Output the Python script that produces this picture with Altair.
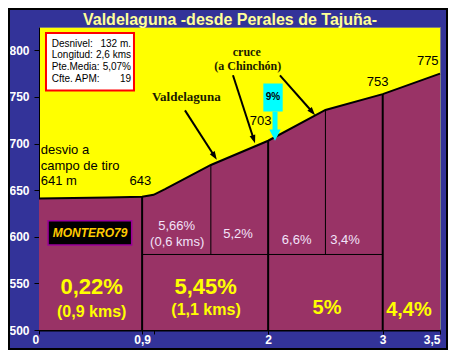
import math
import altair as alt
import pandas as pd

# ---------------- data ----------------
dist_km = [0, 0.6, 0.9, 1.0, 1.1, 1.5, 2.0, 2.5, 3.0, 3.5]
elev_m = [641, 642, 643, 645, 651, 677, 703, 736, 753, 775]

x_ticks = [0, 0.9, 1, 2, 3, 3.5]
y_ticks = [500, 550, 600, 650, 700, 750, 800]

major_km = [0.9, 2, 3]
major_top = [643, 703, 753]
minor_km = [1.5, 2.5]
minor_top = [677, 736]
minor_base = 581

info_keys = ["Desnivel:", "Longitud:", "Pte.Media:", "Cfte. APM:"]
info_vals = ["132 m.", "2,6 kms", "5,07%", "19"]

point_labels = ["643", "703", "753", "775"]
big_labels = ["0,22%", "5,45%"]
big_sub_labels = ["(0,9 kms)", "(1,1 kms)"]
mid_labels = ["5%", "4,4%"]
small_labels = ["5,66%", "(0,6 kms)", "5,2%", "6,6%", "3,4%"]

TITLE = "Valdelaguna -desde Perales de Tajuña-"

# ---------------- layout ----------------
W, H = 401, 303
PAD = {"left": 31, "top": 19, "right": 8, "bottom": 20}
X_DOM = [0, 3.5]
Y_DOM = [500, 825]
SANS = "Liberation Sans"
SERIF = "Liberation Serif"

px_km = W / (X_DOM[1] - X_DOM[0])
px_m = H / (Y_DOM[1] - Y_DOM[0])

x_axis = alt.Axis(
    values=x_ticks,
    labelExpr="datum.value == 1 ? '' : replace(toString(datum.value), '.', ',')",
    labelColor="white", labelFont=SANS, labelFontSize=12, labelFontWeight="bold",
    labelOffset={"condition": {"test": "datum.value == 0", "value": -7}, "value": 0},
    labelPadding=0, tickSize=4, tickColor="black", tickWidth=1,
    domainColor="black", domainWidth=2, grid=False, title=None,
)
y_axis = alt.Axis(
    values=y_ticks, labelColor="white", labelFont=SANS, labelFontSize=12,
    labelFontWeight="bold", labelPadding=5, tickSize=5, tickColor="black",
    domainColor="black", domainWidth=1, grid=False, title=None,
)
xs = alt.Scale(domain=X_DOM, nice=False, zero=False)
ys = alt.Scale(domain=Y_DOM, nice=False, zero=False)


def X(f="km"):
    return alt.X(f"{f}:Q", scale=xs, axis=x_axis)


def Y(f="elev"):
    return alt.Y(f"{f}:Q", scale=ys, axis=y_axis)


prof = pd.DataFrame({"km": dist_km, "elev": elev_m, "base": [500] * len(dist_km)})

area = alt.Chart(prof).mark_area(color="#993366", opacity=1).encode(
    x=X(), y=Y(), y2="base:Q")
line = alt.Chart(prof).mark_line(color="black", strokeWidth=2).encode(x=X(), y=Y())

major = pd.DataFrame({"km": major_km, "elev": [500] * 3, "elev2": major_top})
major_rules = alt.Chart(major).mark_rule(color="black", strokeWidth=2).encode(
    x=X(), y=Y(), y2="elev2:Q")
minor = pd.DataFrame({"km": minor_km, "elev": [minor_base] * 2, "elev2": minor_top})
minor_rules = alt.Chart(minor).mark_rule(color="black", strokeWidth=1).encode(
    x=X(), y=Y(), y2="elev2:Q")
hrule = pd.DataFrame({"km": [major_km[0]], "km2": [major_km[2]], "elev": [minor_base]})
h_rule = alt.Chart(hrule).mark_rule(color="black", strokeWidth=1).encode(
    x=X(), x2="km2:Q", y=Y())


def text_layer(km, elev, labels, **kw):
    df = pd.DataFrame({"km": km, "elev": elev, "label": labels})
    return alt.Chart(df).mark_text(**kw).encode(x=X(), y=Y(), text="label:N")


def box_layer(km, km2, elev, elev2, **kw):
    df = pd.DataFrame({"km": [km], "km2": [km2], "elev": [elev], "elev2": [elev2]})
    return alt.Chart(df).mark_rect(**kw).encode(x=X(), x2="km2:Q", y=Y(), y2="elev2:Q")


# info box
info_box = box_layer(0.061, 0.829, 818.6, 756.9, fill="white", stroke="#FF0000", strokeWidth=2)
info_rows = [806.9, 794.5, 782.1, 768.9]
info_left = text_layer([0.111] * 4, info_rows, info_keys, font=SANS, fontSize=10,
                       color="black", align="left", baseline="middle")
info_right = text_layer([0.803] * 4, info_rows, info_vals, font=SANS, fontSize=10,
                        color="black", align="right", baseline="middle")

# place annotations
desvio = text_layer([0.015] * 3, [693.1, 676.1, 659.8],
                    ["desvio a", "campo de tiro", "641 m"], font=SANS, fontSize=13,
                    color="black", align="left", baseline="middle")
points = text_layer([0.884, 1.935, 2.955, 3.393], [660.1, 724.7, 766.2, 788.5],
                    point_labels, font=SANS, fontSize=13, color="black",
                    align="center", baseline="middle")
valde = text_layer([1.286], [750.2], ["Valdelaguna"], font=SERIF, fontSize=13,
                   fontWeight="bold", color="#1a1a00", align="center", baseline="middle")
cruce = text_layer([1.813, 1.822], [798.7, 783.2], ["cruce", "(a Chinchón)"], font=SERIF,
                   fontSize=12, fontWeight="bold", color="#1a1a00", align="center",
                   baseline="middle")

# arrows
arrows = [((1.274, 735.6), (1.551, 682.8)),
          ((1.693, 773.2), (1.885, 700.5)),
          ((2.103, 773.2), (2.409, 730.6))]
ar_rows, head_rows = [], []
for (k1, e1), (k2, e2) in arrows:
    dx = (k2 - k1) * px_km
    dy = -(e2 - e1) * px_m
    L = math.hypot(dx, dy)
    ang = math.degrees(math.atan2(dx, -dy)) % 360
    hk = k2 - 4 * dx / L / px_km
    he = e2 + 4 * dy / L / px_m
    ar_rows.append({"km": k1, "elev": e1, "km2": hk, "elev2": he})
    head_rows.append({"km": hk, "elev": he, "angle": ang})
arrow_lines = alt.Chart(pd.DataFrame(ar_rows)).mark_rule(color="black", strokeWidth=2).encode(
    x=X(), y=Y(), x2="km2:Q", y2="elev2:Q")
arrow_heads = alt.Chart(pd.DataFrame(head_rows)).mark_point(
    shape="M0,-1L-0.7,1L0.7,1Z", filled=True, color="black", opacity=1, size=70
).encode(x=X(), y=Y(), angle=alt.Angle("angle:Q", scale=None))

# 9% marker
pct_box = box_layer(1.958, 2.127, 764.4, 734.3, fill="#00FFFF")
pct_text = text_layer([2.042], [749.5], ["9%"], font=SANS, fontSize=10, fontWeight="bold",
                      color="black", align="center", baseline="middle")
cy_shaft = pd.DataFrame({"km": [2.06], "elev": [734.3], "elev2": [714]})
cyan_shaft = alt.Chart(cy_shaft).mark_rule(color="#00FFFF", strokeWidth=5).encode(
    x=X(), y=Y(), y2="elev2:Q")
cyan_head = alt.Chart(pd.DataFrame({"km": [2.06], "elev": [709]})).mark_point(
    shape="M0,1L-1,-1L1,-1Z", filled=True, color="#00FFFF", opacity=1, size=130
).encode(x=X(), y=Y())

# watermark box
mont_box = box_layer(0.079, 0.809, 617.2, 591.3, fill="black", stroke="#990099", strokeWidth=1.5)
mont_text = text_layer([0.445], [604.3], ["MONTERO79"], font=SANS, fontSize=12,
                       fontWeight="bold", fontStyle="italic", color="#FFCC00",
                       align="center", baseline="middle")

# gradient labels
big = text_layer([0.46, 1.455], [546.3, 546.3], big_labels, font=SANS, fontSize=22,
                 fontWeight="bold", color="#FFFF00", align="center", baseline="middle")
big_sub = text_layer([0.46, 1.458], [519.7, 521.8], big_sub_labels, font=SANS, fontSize=16,
                     fontWeight="bold", color="#FFFF00", align="center", baseline="middle")
mid = text_layer([2.514, 3.229], [523.2, 521.5], mid_labels, font=SANS, fontSize=20,
                 fontWeight="bold", color="#FFFF00", align="center", baseline="middle")
small = text_layer([1.202, 1.206, 1.737, 2.249, 2.671], [611.9, 594.9, 603.0, 596.0, 596.0],
                   small_labels, font=SANS, fontSize=13, color="#F2E4FA",
                   align="center", baseline="middle")

title = text_layer([1.667], [833.0], [TITLE], font=SANS, fontSize=16, fontWeight="bold",
                   color="#FFFF99", align="center", baseline="middle")

frame = alt.Chart(pd.DataFrame({"a": [0]})).mark_rect(
    filled=False, stroke="black", strokeWidth=2
).encode(x=alt.value(-PAD["left"] + 1), x2=alt.value(W + PAD["right"] - 1),
         y=alt.value(-PAD["top"] + 1), y2=alt.value(H + PAD["bottom"] - 1))

chart = alt.layer(
    area, major_rules, minor_rules, h_rule, line,
    info_box, info_left, info_right,
    desvio, points, valde, cruce,
    arrow_lines, arrow_heads,
    pct_box, cyan_shaft, cyan_head, pct_text,
    mont_box, mont_text,
    big, big_sub, mid, small, title, frame,
).properties(
    width=W, height=H, background="#333399", padding=PAD,
    autosize=alt.AutoSizeParams(type="none"),
).configure_view(fill="#FFFF00", stroke="#7f7f7f", strokeWidth=1)

chart.save("out.html", embed_options={"renderer": "svg", "actions": False})
